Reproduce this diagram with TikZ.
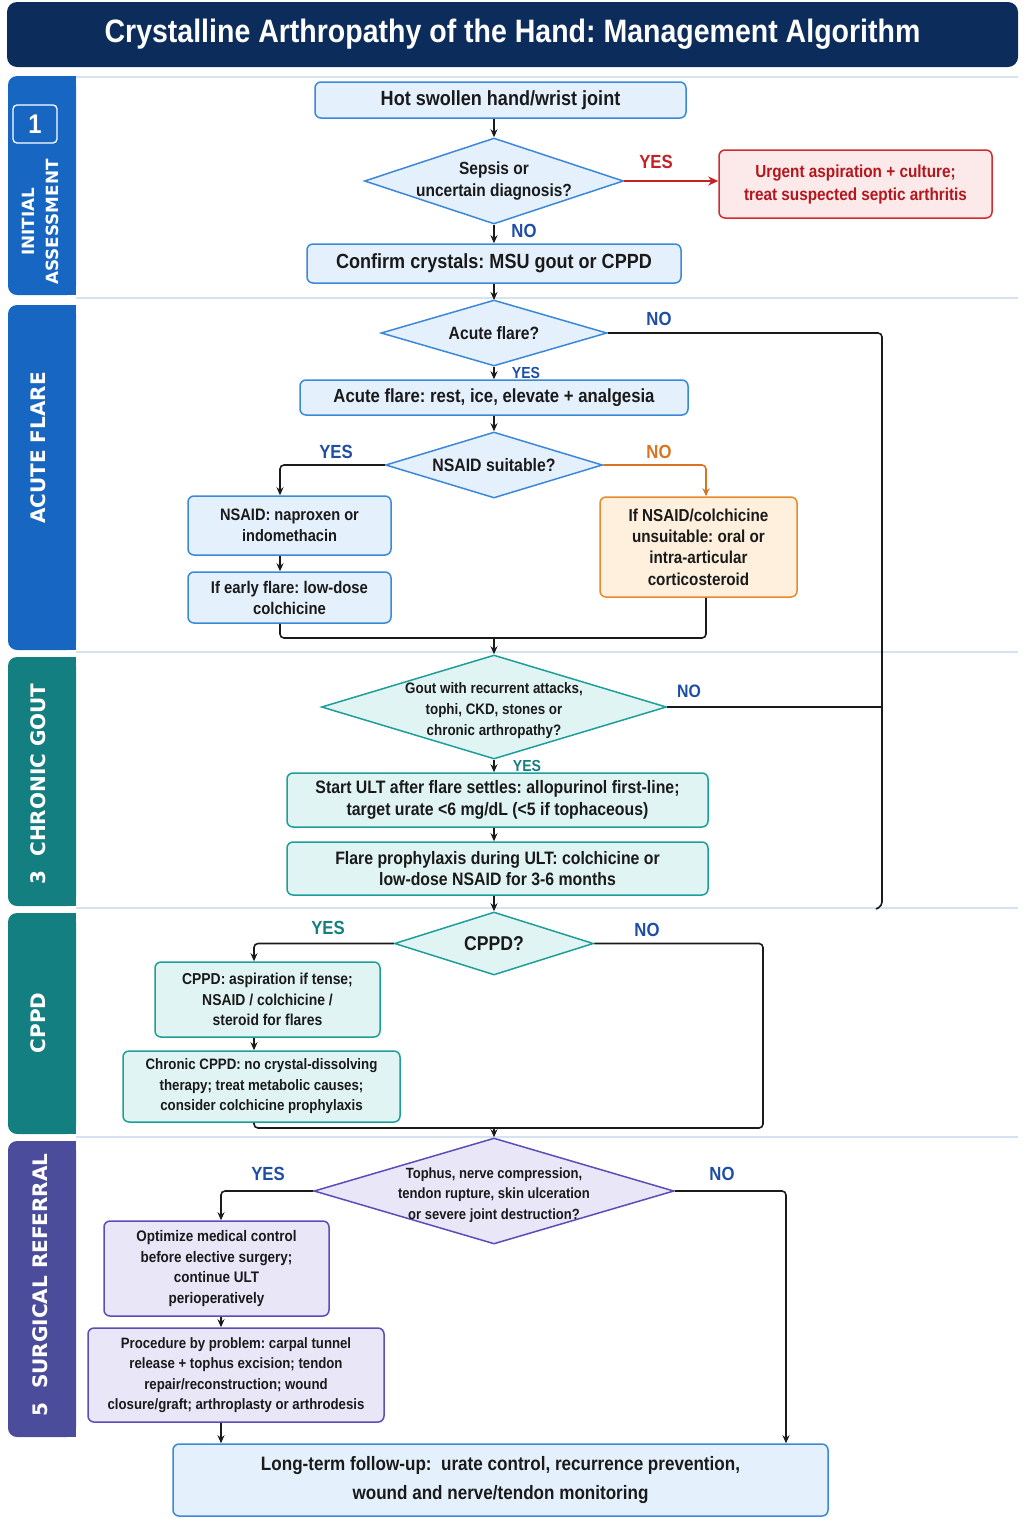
\documentclass[tikz,border=0pt]{standalone}
\usepackage{fontspec}
\setmainfont{Liberation Sans}[FakeStretch=0.88]
\newfontfamily\tabfont{DejaVu Sans}
\usetikzlibrary{shapes.geometric,arrows.meta}
\newcommand\myfs[2]{\fontsize{#1}{#2}\selectfont}
\frenchspacing
\definecolor{navy}{HTML}{0C2D5B}
\definecolor{tabblue}{HTML}{1766C2}
\definecolor{tabteal}{HTML}{137F80}
\definecolor{tabpurple}{HTML}{4B4C9C}
\definecolor{bfill}{HTML}{E4F0FC}
\definecolor{bdraw}{HTML}{3C88D8}
\definecolor{tfill}{HTML}{E0F4F3}
\definecolor{tdraw}{HTML}{1E9E98}
\definecolor{pfill}{HTML}{E9E6F8}
\definecolor{pdraw}{HTML}{5A4DB8}
\definecolor{rfill}{HTML}{FCEAEA}
\definecolor{rdraw}{HTML}{D22B2F}
\definecolor{rtext}{HTML}{B3161C}
\definecolor{ofill}{HTML}{FEF0DC}
\definecolor{odraw}{HTML}{E88A2C}
\definecolor{lblblue}{HTML}{1E4DA6}
\definecolor{lblteal}{HTML}{157F80}
\definecolor{lblred}{HTML}{C42026}
\definecolor{lblorange}{HTML}{D8731F}
\definecolor{sepline}{HTML}{D5E3F1}
\definecolor{connc}{HTML}{1A1A1A}
\definecolor{txt}{HTML}{1A1A1A}
\tikzset{
  box/.style={draw, rounded corners=6pt, line width=1.5pt, align=center, inner sep=0pt, text=txt},
  bbox/.style={box, draw=bdraw, fill=bfill},
  tbox/.style={box, draw=tdraw, fill=tfill},
  pbox/.style={box, draw=pdraw, fill=pfill},
  dia/.style={diamond, draw, line width=1.5pt, inner sep=0pt},
  bdia/.style={dia, draw=bdraw, fill=bfill},
  tdia/.style={dia, draw=tdraw, fill=tfill},
  pdia/.style={dia, draw=pdraw, fill=pfill},
  dtext/.style={align=center, text=txt, inner sep=0pt},
  conn/.style={line width=1.6pt, draw=connc, rounded corners=4pt},
  arr/.style={conn, -{Stealth[length=8pt,width=7pt]}},
  lbl/.style={font=\bfseries\myfs{19}{19}, inner sep=0pt},
  slbl/.style={font=\bfseries\myfs{16}{16}, inner sep=0pt},
  tablbl/.style={rotate=90, text=white, font=\tabfont\bfseries\myfs{20}{24}, align=center, inner sep=0pt},
  sep/.style={draw=sepline, line width=1.2pt}
}
\begin{document}
\begin{tikzpicture}[x=1pt,y=-1pt]
\useasboundingbox (0,0) rectangle (1023,1537);
% title
\node[fill=navy, rounded corners=10pt, minimum width=1011pt, minimum height=65pt, text=white, font=\bfseries\myfs{32.4}{36}] (title) at (512.5,34.5) {Crystalline Arthropathy of the Hand: Management Algorithm};
% section tabs
\fill[tabblue, rounded corners=9pt] (8,76) rectangle (76,295);
\fill[tabblue] (60,76) rectangle (76,295);
\fill[tabblue, rounded corners=9pt] (8,305) rectangle (76,650);
\fill[tabblue] (60,305) rectangle (76,650);
\fill[tabteal, rounded corners=9pt] (8,657) rectangle (76,906);
\fill[tabteal] (60,657) rectangle (76,906);
\fill[tabteal, rounded corners=9pt] (8,913) rectangle (76,1134);
\fill[tabteal] (60,913) rectangle (76,1134);
\fill[tabpurple, rounded corners=9pt] (8,1141) rectangle (76,1437);
\fill[tabpurple] (60,1141) rectangle (76,1437);
% separators
\foreach \yy in {77,298,652,908,1137} \draw[sep] (76,\yy) -- (1018,\yy);
% tab labels
\node[draw=white, line width=1.3pt, rounded corners=4pt, minimum width=44pt, minimum height=38pt, text=white, font=\bfseries\myfs{27}{27}] (s1num) at (35,124) {1};
\node[tablbl, font=\tabfont\bfseries\myfs{16.8}{24}] (s1lbl) at (40,222) {INITIAL\\ASSESSMENT};
\node[tablbl] (s2lbl) at (38,448) {ACUTE FLARE};
\node[tablbl] (s3lbl) at (38,784) {3\hspace{14pt}CHRONIC GOUT};
\node[tablbl] (s4lbl) at (38,1023) {CPPD};
\node[tablbl] (s5lbl) at (40,1285) {5\hspace{14pt}SURGICAL REFERRAL};

% helper x coordinates
\coordinate (cx) at (494,0);
\coordinate (x280) at (280,0);
\coordinate (x706) at (706,0);
\coordinate (x882) at (882,0);
\coordinate (x254) at (254,0);
\coordinate (x763) at (763,0);
\coordinate (x221) at (221,0);
\coordinate (x786) at (786,0);

% Section 1
\node[bbox, minimum width=371pt, minimum height=36pt, font=\bfseries\myfs{20.5}{24}] (n1) at (500.5,100) {Hot swollen hand/wrist joint};
\node[bdia, minimum width=259pt, minimum height=86pt, label={[dtext, font=\bfseries\myfs{17.6}{22.5}]center:Sepsis or\\uncertain diagnosis?}] (d1) at (494,181) {};
\node[box, draw=rdraw, fill=rfill, text=rtext, minimum width=273pt, minimum height=68pt, font=\bfseries\myfs{17.4}{23}] (r1) at (855.5,184) {Urgent aspiration + culture;\\treat suspected septic arthritis};
\node[bbox, minimum width=374pt, minimum height=39pt, font=\bfseries\myfs{20.5}{24}] (n2) at (494,263.5) {Confirm crystals: MSU gout or CPPD};

\draw[arr] (n1.south -| cx) -- (d1.north);
\draw[conn, draw=lblred, -{Stealth[length=10pt,width=9pt]}] (d1.east) -- (r1.west |- d1.east);
\node[lbl, text=lblred] (ly1) at (656,162) {YES};
\draw[arr] (d1.south) -- (n2.north -| cx);
\node[lbl, text=lblblue] (ln1) at (524,231) {NO};
\draw[arr] (n2.south -| cx) -- (cx |- 300,300);

% Section 2
\node[bdia, minimum width=226pt, minimum height=66pt, label={[dtext, font=\bfseries\myfs{17.8}{22}]center:Acute flare?}] (d2) at (494,333) {};
\node[bbox, minimum width=388pt, minimum height=35pt, font=\bfseries\myfs{19}{23}] (n3) at (494,397.5) {Acute flare: rest, ice, elevate + analgesia};
\node[bdia, minimum width=217pt, minimum height=66pt, label={[dtext, font=\bfseries\myfs{18}{22}]center:NSAID suitable?}] (d3) at (494,465) {};
\node[bbox, minimum width=203pt, minimum height=59pt, font=\bfseries\myfs{16.6}{21}] (n4) at (289.5,525.5) {NSAID: naproxen or\\indomethacin};
\node[bbox, minimum width=203pt, minimum height=51pt, font=\bfseries\myfs{16.9}{21}] (n5) at (289.5,597.5) {If early flare: low-dose\\colchicine};
\node[box, draw=odraw, fill=ofill, minimum width=197pt, minimum height=100pt, font=\bfseries\myfs{17.3}{21.3}] (o1) at (698.5,547) {If NSAID/colchicine\\unsuitable: oral or\\intra-articular\\corticosteroid};
\coordinate (jn1) at (494,638);
\coordinate (nobot) at (882,906);
\coordinate (nohook) at (876,909);

\draw[conn] (d2.east) -| (nobot) -- (nohook);
\node[lbl, text=lblblue] (ln2) at (659,319) {NO};
\draw[arr] (d2.south) -- (n3.north);
\node[slbl, text=lblblue] (ly2) at (526,373) {YES};
\draw[arr] (n3.south) -- (d3.north);
\draw[arr] (d3.west) -| (n4.north -| x280);
\node[lbl, text=lblblue] (ly3) at (336,452) {YES};
\draw[conn, draw=lblorange, -{Stealth[length=8pt,width=7pt]}] (d3.east) -| (o1.north -| x706);
\node[lbl, text=lblorange] (ln3) at (659,452) {NO};
\draw[arr] (n4.south -| x280) -- (n5.north -| x280);
\draw[conn] (n5.south -| x280) -- (x280 |- jn1) -- (x706 |- jn1) -- (o1.south -| x706);

% Section 3
\node[tdia, minimum width=345pt, minimum height=104pt, label={[dtext, font=\bfseries\myfs{15.2}{21}, yshift=-4pt]center:Gout with recurrent attacks,\\tophi, CKD, stones or\\chronic arthropathy?}] (d4) at (494,707) {};
\node[tbox, minimum width=421pt, minimum height=54pt, font=\bfseries\myfs{18}{21.5}] (n6) at (497.5,800) {Start ULT after flare settles: allopurinol first-line;\\target urate {<}6 mg/dL ({<}5 if tophaceous)};
\node[tbox, minimum width=421pt, minimum height=53pt, font=\bfseries\myfs{18}{21.5}] (n7) at (497.5,868.5) {Flare prophylaxis during ULT: colchicine or\\low-dose NSAID for 3-6 months};

\draw[arr] (jn1) -- (d4.north);
\draw[conn] (d4.east) -- (x882 |- d4.east);
\node[lbl, text=lblblue, font=\bfseries\myfs{18}{18}] (ln4) at (689,691) {NO};
\draw[arr] (d4.south) -- (n6.north -| cx);
\node[slbl, text=lblteal] (ly4) at (527,766) {YES};
\draw[arr] (n6.south -| cx) -- (n7.north -| cx);

% Section 4
\node[tdia, minimum width=199pt, minimum height=63pt, label={[dtext, font=\bfseries\myfs{20}{22}]center:CPPD?}] (d5) at (494,943.5) {};
\node[tbox, minimum width=225pt, minimum height=75pt, font=\bfseries\myfs{15.8}{20.5}] (n8) at (267.5,999.5) {CPPD: aspiration if tense;\\NSAID / colchicine /\\steroid for flares};
\node[tbox, minimum width=277pt, minimum height=71pt, font=\bfseries\myfs{15.1}{20.5}] (n9) at (261.5,1086.5) {Chronic CPPD: no crystal-dissolving\\therapy; treat metabolic causes;\\consider colchicine prophylaxis};
\coordinate (jn2) at (494,1128);

\draw[arr] (n7.south -| cx) -- (d5.north);
\draw[arr] (d5.west) -| (n8.north -| x254);
\node[lbl, text=lblteal] (ly5) at (328,928) {YES};
\draw[conn] (d5.east) -| (x763 |- jn2) -- (x254 |- jn2) -- (n9.south -| x254);
\node[lbl, text=lblblue] (ln5) at (647,930) {NO};
\draw[arr] (n8.south -| x254) -- (n9.north -| x254);

% Section 5
\node[pdia, minimum width=360pt, minimum height=106pt, label={[dtext, font=\bfseries\myfs{14.8}{20.5}, yshift=-4pt]center:Tophus, nerve compression,\\tendon rupture, skin ulceration\\or severe joint destruction?}] (d6) at (494,1191) {};
\node[pbox, minimum width=225pt, minimum height=95pt, font=\bfseries\myfs{15.3}{20.5}] (n10) at (216.5,1268.5) {Optimize medical control\\before elective surgery;\\continue ULT\\perioperatively};
\node[pbox, minimum width=296pt, minimum height=94pt, font=\bfseries\myfs{15}{20.5}] (n11) at (236,1375) {Procedure by problem: carpal tunnel\\release + tophus excision; tendon\\repair/reconstruction; wound\\closure/graft; arthroplasty or arthrodesis};
\node[bbox, minimum width=655pt, minimum height=72pt, font=\bfseries\myfs{19.4}{29}] (n12) at (500.5,1480) {Long-term follow-up:\ \ urate control, recurrence prevention,\\wound and nerve/tendon monitoring};

\draw[arr] (jn2) -- (d6.north);
\draw[arr] (d6.west) -| (n10.north -| x221);
\node[lbl, text=lblblue] (ly6) at (268,1174) {YES};
\draw[arr] (d6.east) -| (n12.north -| x786);
\node[lbl, text=lblblue] (ln6) at (722,1174) {NO};
\draw[arr] (n10.south -| x221) -- (n11.north -| x221);
\draw[arr] (n11.south -| x221) -- (n12.north -| x221);
\end{tikzpicture}
\end{document}
